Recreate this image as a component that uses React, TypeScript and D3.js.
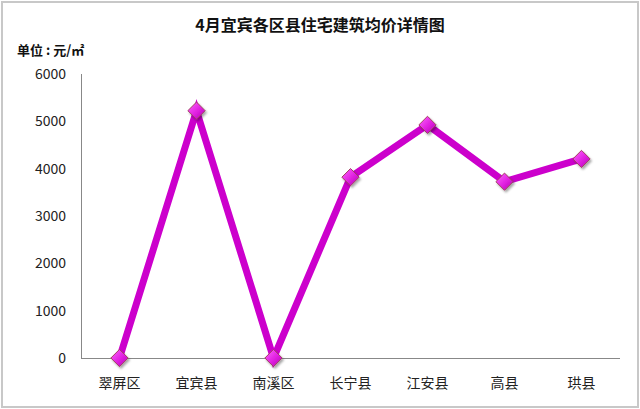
import React from 'react';
import * as d3 from 'd3';

const categories = ['翠屏区', '宜宾县', '南溪区', '长宁县', '江安县', '高县', '珙县'];
const prices = [0, 5225, 0, 3820, 4925, 3725, 4205];
const yTicks = [0, 1000, 2000, 3000, 4000, 5000, 6000];

const W = 640;
const H = 409;
const font = '"Microsoft YaHei", "Noto Sans CJK SC", sans-serif';

const App: React.FC = () => {
  const x = d3.scaleBand<string>().domain(categories).range([81, 620]).padding(0);
  const y = d3.scaleLinear().domain([0, 6000]).range([358, 74]);
  const cx = (c: string) => (x(c) || 0) + x.bandwidth() / 2;

  const line = d3
    .line<number>()
    .x((_, i) => cx(categories[i]))
    .y(d => y(d));

  const diamond = d3.symbol().type(d3.symbolDiamond2).size(190)();

  return (
    <div style={{ position: 'absolute', left: 0, top: 0 }}>
      <svg width={W} height={H} style={{ display: 'block', background: '#fff' }}>
        <defs>
          <linearGradient id="mk" x1="0" y1="0" x2="1" y2="1">
            <stop offset="0%" stopColor="#ff66ff" />
            <stop offset="55%" stopColor="#e020e0" />
            <stop offset="100%" stopColor="#b000b0" />
          </linearGradient>
          <filter id="sh" x="-50%" y="-50%" width="200%" height="200%">
            <feDropShadow dx="1.5" dy="2" stdDeviation="1.2" floodColor="#000" floodOpacity="0.35" />
          </filter>
        </defs>
        <rect x={2} y={2} width={W - 4} height={H - 4} fill="#fff" stroke="#c8c8c8" strokeWidth={2} />

        <text x={320} y={31} textAnchor="middle" fontFamily={font} fontWeight="bold" fontSize={16} fill="#111">
          4月宜宾各区县住宅建筑均价详情图
        </text>
        <text x={17} y={55} fontFamily={font} fontWeight="bold" fontSize={13} fill="#111">
          单位 : 元/㎡
        </text>

        {/* axes */}
        <line x1={81.5} y1={74} x2={81.5} y2={358} stroke="#888" strokeWidth={1} />
        <line x1={81} y1={358.5} x2={620} y2={358.5} stroke="#888" strokeWidth={1} />
        {yTicks.map(t => (
          <text key={t} x={66} y={y(t) + 5} textAnchor="end" fontFamily={font} fontSize={14} fill="#222">
            {t}
          </text>
        ))}
        {categories.map(c => (
          <text key={c} x={cx(c)} y={388} textAnchor="middle" fontFamily={font} fontSize={14} fill="#222">
            {c}
          </text>
        ))}

        <path d={line(prices) || ''} fill="none" stroke="#cc00cc" strokeWidth={7} strokeLinejoin="miter" />
        {prices.map((v, i) => (
          <path
            key={categories[i]}
            d={diamond || ''}
            transform={`translate(${cx(categories[i])},${y(v)})`}
            fill="url(#mk)"
            stroke="#a04060"
            strokeWidth={1}
            filter="url(#sh)"
          />
        ))}
      </svg>
    </div>
  );
};

export default App;
